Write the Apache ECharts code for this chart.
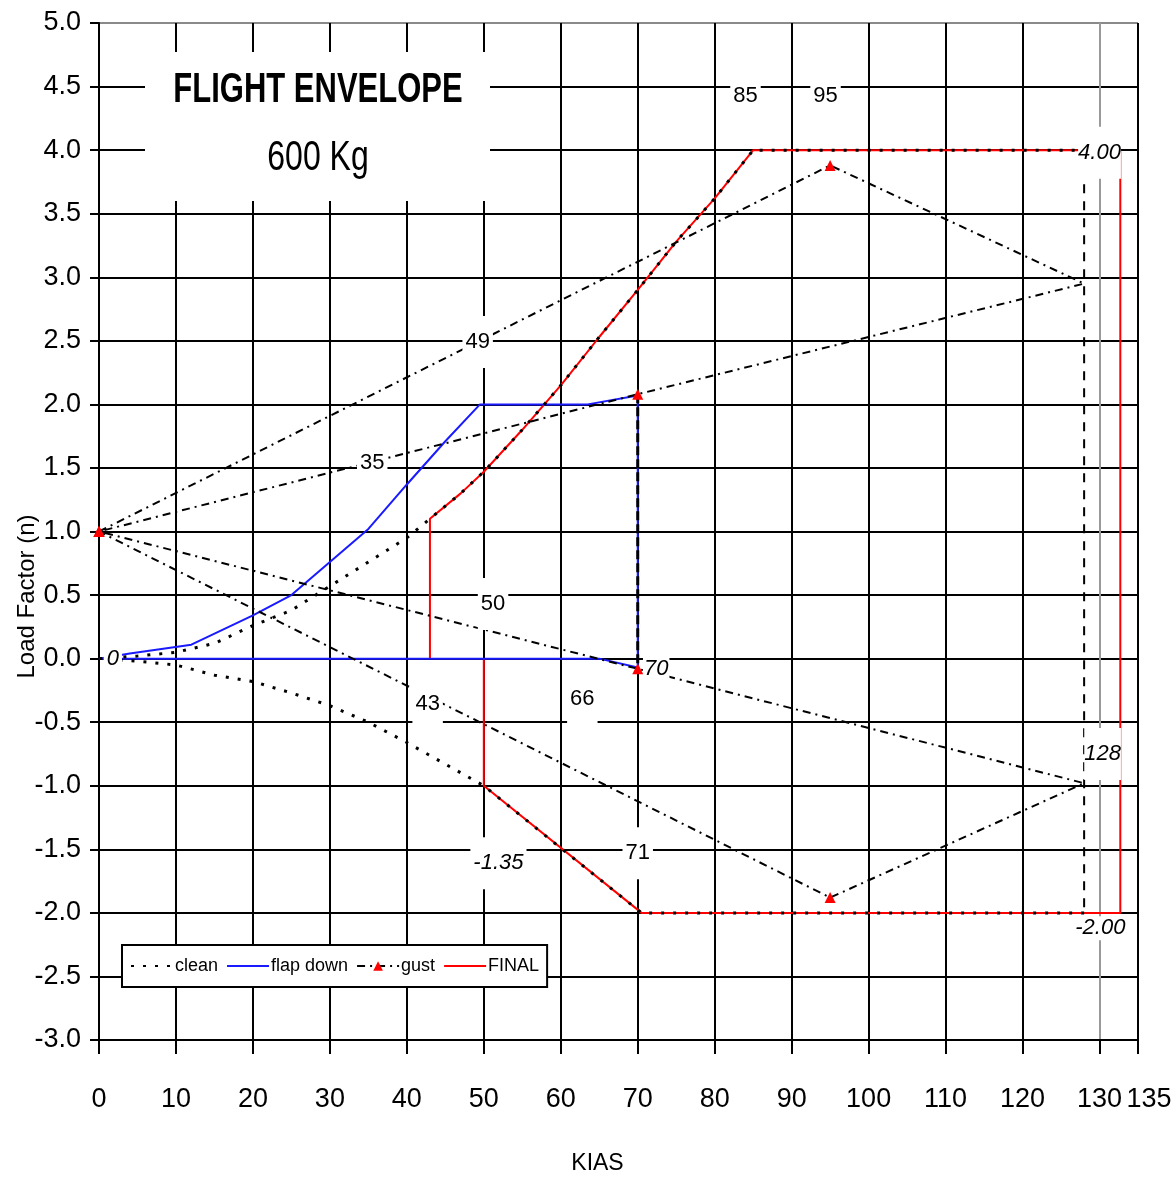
<!DOCTYPE html>
<html>
<head>
<meta charset="utf-8">
<script src="https://cdn.jsdelivr.net/npm/echarts@6/dist/echarts.min.js"></script>
<style>html,body{margin:0;padding:0;background:#fff}#c{width:1176px;height:1186px}</style>
</head>
<body>
<div id="c"></div>
<script>
// ---- data ----
const cleanPosX = [0, 5, 10, 15, 20, 25, 30, 35, 40, 43, 47, 50, 55, 60, 65, 70, 75, 80, 85, 128];
const cleanPosY = [0, 0.02, 0.05, 0.12, 0.26, 0.38, 0.57, 0.76, 0.95, 1.1, 1.3, 1.47, 1.8, 2.15, 2.53, 2.9, 3.28, 3.62, 4.0, 4.0];
const cleanNegX = [0, 5, 10, 15, 20, 25, 30, 35, 40, 45, 50, 60, 70.5, 128];
const cleanNegY = [0, -0.02, -0.05, -0.13, -0.18, -0.27, -0.37, -0.5, -0.66, -0.83, -1.0, -1.49, -2.0, -2.0];

const flapX = [0, 4, 12, 20, 25, 30, 35, 40, 45, 49.5, 63.5, 70, 70, 65, 0];
const flapY = [0, 0.04, 0.11, 0.34, 0.5, 0.76, 1.02, 1.37, 1.71, 2.0, 2.0, 2.07, -0.07, 0, 0];

const gustX = [0, 95, 128, 70, 0, 70, 128, 95, 0];
const gustY = [1, 3.88, 2.95, 2.08, 1, -0.08, -0.98, -1.88, 1];

const finalX = [43, 43, 47, 50, 55, 60, 65, 70, 75, 80, 85, 132.7, 132.7, 70.5, 50, 50];
const finalY = [0, 1.1, 1.3, 1.47, 1.8, 2.15, 2.53, 2.9, 3.28, 3.62, 4.0, 4.0, -2.0, -2.0, -1.0, 0];

const vdX = [128, 128];
const vdY = [4.0, -2.0];
const vfeX = [70, 70];
const vfeY = [2.08, -0.08];

const annText = ['0', '49', '35', '50', '43', '66', '70', '128', '71', '-1.35', '-2.00', '4.00', '85', '95'];
const annX = [1.8, 49.2, 35.5, 51.2, 42.7, 62.8, 72.4, 130.4, 70.0, 51.9, 130.1, 130.0, 84.0, 94.4];
const annY = [0.0, 2.49, 1.54, 0.43, -0.36, -0.32, -0.08, -0.75, -1.53, -1.61, -2.12, 3.98, 4.43, 4.43];

const xMin = 0, xMax = 135, xStep = 10;
const yMin = -3, yMax = 5, yStep = 0.5;
const legendNames = ['clean', 'flap down', 'gust', 'FINAL'];

// ---- build ----
const zip = (xs, ys) => xs.map((x, i) => [x, ys[i]]);
const cleanData = zip(cleanNegX, cleanNegY).reverse().concat(zip(cleanPosX, cleanPosY).slice(1));
const gustData = zip(gustX, gustY).map(p => p[0] === 128 ? { value: p, symbol: 'none' } : { value: p });
const italicSet = new Set(['0', '70', '128', '-1.35', '-2.00', '4.00']);
const narrowBox = { '4.00': [15, 0], '128': [15, 0], '-2.00': [1, 1], '70': [15, 1] };
const annData = annText.map((t, i) => ({
  name: t, value: [annX[i], annY[i]],
  label: { fontStyle: italicSet.has(t) ? 'italic' : 'normal', padding: narrowBox[t] || [15, 3] }
}));

const FONT = "'Liberation Sans', Arial, sans-serif";
// split lines are drawn without the min line, so index 0 is the first inner tick
const xTickVals = [];
for (let v = xMin + xStep; v < xMax; v += xStep) xTickVals.push(v);
xTickVals.push(xMax);
const xLineColors = xTickVals.map(v => (v === 130 ? '#9a9a9a' : '#000'));
const yTickVals = [];
for (let v = yMin + yStep; v <= yMax + 1e-9; v += yStep) yTickVals.push(+v.toFixed(1));
const yLineColors = yTickVals.map(v => (v === yMax ? '#8a8a8a' : '#000'));
const noSymbol = { opacity: 0 };

const chart = echarts.init(document.getElementById('c'));
chart.setOption({
  animation: false,
  backgroundColor: '#fff',
  textStyle: { fontFamily: FONT },
  grid: { left: 99, right: 38, top: 23, bottom: 146, outerBoundsMode: 'none' },
  xAxis: {
    type: 'value', min: xMin, max: xMax, interval: xStep,
    name: 'KIAS', nameLocation: 'middle', nameGap: 112, nameMoveOverlap: false,
    nameTextStyle: { fontSize: 23, color: '#000', fontFamily: FONT, padding: [0, 42, 0, 0] },
    axisLine: { show: true, onZero: false, lineStyle: { color: '#000', width: 2 } },
    axisTick: { show: true, length: 14, lineStyle: { color: '#000', width: 2 } },
    axisLabel: { fontSize: 27, color: '#000', margin: 46, fontFamily: FONT, showMaxLabel: true, showMinLabel: true,
      formatter: v => (v === xMax ? '{m|' + v + '}' : String(v)),
      rich: { m: { fontSize: 27, color: '#000', fontFamily: FONT, padding: [0, 0, 0, 22] } } },
    splitLine: { show: true, showMinLine: false, showMaxLine: true, lineStyle: { color: xLineColors, width: 2 } }
  },
  yAxis: {
    type: 'value', min: yMin, max: yMax, interval: yStep,
    name: 'Load Factor (n)', nameLocation: 'middle', nameGap: 60, nameRotate: 90, nameMoveOverlap: false,
    nameTextStyle: { fontSize: 24, color: '#000', fontFamily: FONT, padding: [0, 130, 0, 0] },
    axisLine: { show: true, onZero: false, lineStyle: { color: '#000', width: 2 } },
    axisTick: { show: true, length: 9, lineStyle: { color: '#000', width: 2 } },
    axisLabel: { fontSize: 27, color: '#000', margin: 18, fontFamily: FONT,
      formatter: v => v.toFixed(1) },
    splitLine: { show: true, showMinLine: false, showMaxLine: true, lineStyle: { color: yLineColors, width: 2 } }
  },
  legend: {
    data: [
      { name: 'clean', itemStyle: noSymbol },
      { name: 'flap down', itemStyle: noSymbol },
      { name: 'gust' },
      { name: 'FINAL', itemStyle: noSymbol }
    ],
    left: 122, top: 945, orient: 'horizontal',
    padding: [12, 8, 12, 8], itemGap: 8, itemWidth: 42, itemHeight: 12,
    borderColor: '#000', borderWidth: 2, backgroundColor: '#fff',
    textStyle: { fontSize: 18, color: '#000', fontFamily: FONT, padding: [0, 0, 0, -3] }
  },
  graphic: [
    { type: 'rect', z: 5, shape: { x: 145, y: 52, width: 345, height: 149 }, style: { fill: '#fff' } },
    { type: 'text', z: 6, x: 318, y: 90, scaleY: 1.35, style: { text: 'FLIGHT ENVELOPE', font: "bold 31px " + FONT, fill: '#000', textAlign: 'center', textVerticalAlign: 'middle' } },
    { type: 'text', z: 6, x: 318, y: 158, scaleY: 1.35, style: { text: '600 Kg', font: "32px " + FONT, fill: '#000', textAlign: 'center', textVerticalAlign: 'middle' } }
  ],
  series: [
    { name: 'FINAL', type: 'line', data: zip(finalX, finalY), showSymbol: false, symbol: 'none',
      lineStyle: { color: '#ff0000', width: 2 }, itemStyle: { color: '#ff0000' }, z: 2 },
    { name: 'flap down', type: 'line', data: zip(flapX, flapY), showSymbol: false, symbol: 'none',
      lineStyle: { color: '#1a1aff', width: 2 }, itemStyle: { color: '#1a1aff' }, z: 3 },
    { name: 'Vfe', type: 'line', data: zip(vfeX, vfeY), symbol: 'none',
      lineStyle: { color: '#000', width: 3, type: [9, 4] }, z: 4 },
    { name: 'Vd', type: 'line', data: zip(vdX, vdY), symbol: 'none',
      lineStyle: { color: '#000', width: 2, type: [9, 8] }, z: 4 },
    { name: 'gust', type: 'line', data: gustData, symbol: 'triangle', symbolSize: 11, showAllSymbol: true,
      lineStyle: { color: '#000', width: 2, type: [8, 5, 2, 5] }, itemStyle: { color: '#ff0000' }, z: 4 },
    { name: 'clean', type: 'line', data: cleanData, showSymbol: false, symbol: 'none',
      lineStyle: { color: '#000', width: 3, type: [3, 9] }, itemStyle: { color: '#000' }, z: 5 },
    { name: 'labels', type: 'scatter', data: annData, symbolSize: 0, z: 10, silent: true,
      itemStyle: { opacity: 1 },
      label: { show: true, position: 'inside', formatter: p => p.name, fontSize: 22, color: '#000',
        opacity: 1, fontFamily: FONT, backgroundColor: '#fff' } }
  ]
});
</script>
</body>
</html>
